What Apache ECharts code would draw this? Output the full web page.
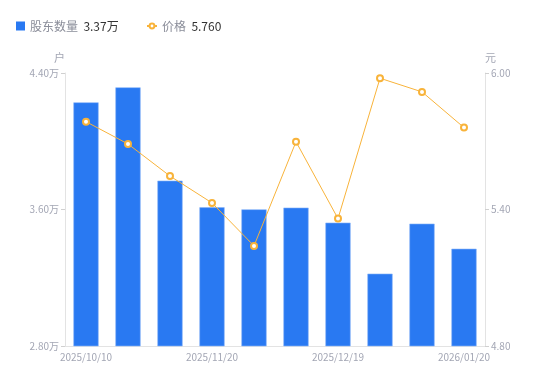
<!DOCTYPE html>
<html><head><meta charset="utf-8">
<script src="https://cdn.jsdelivr.net/npm/echarts@6/dist/echarts.min.js"></script>
<style>html,body{margin:0;padding:0;background:#fff}#c{width:550px;height:381px}</style>
</head><body><div id="c"></div>
<script>
const categories = ['2025/10/10','2025/10/20','2025/10/31','2025/11/20','2025/11/28','2025/12/10','2025/12/19','2025/12/31','2026/01/09','2026/01/20'];
const holders = [4.228, 4.316, 3.769, 3.613, 3.601, 3.611, 3.523, 3.224, 3.517, 3.370];
const prices = [5.786, 5.688, 5.547, 5.429, 5.240, 5.698, 5.360, 5.977, 5.917, 5.760];
const leftTicks = [2.80, 3.60, 4.40];
const rightTicks = [4.80, 5.40, 6.00];
const legendValues = {'股东数量': '3.37万', '价格': '5.760'};

const chart = echarts.init(document.getElementById('c'));
const labelColor = '#a3a6b4';
const legendText = {color: '#8a8d99', fontSize: 12, rich: {v: {color: '#333', fontSize: 12}}};
const fmt = n => n + '  {v|' + legendValues[n] + '}';
chart.setOption({
  animation: false,
  textStyle: {fontFamily: 'Noto Sans CJK SC, sans-serif'},
  legend: [{
    left: 11, top: 15, itemWidth: 9, itemHeight: 9,
    data: [{name: '股东数量', icon: 'rect', itemStyle: {borderWidth: 0}}],
    formatter: fmt, textStyle: legendText
  }, {
    left: 141, top: 15, itemWidth: 10, itemHeight: 6,
    data: [{name: '价格'}],
    formatter: fmt, textStyle: legendText
  }],
  grid: {left: 65, right: 65, top: 73, bottom: 35},
  xAxis: {
    type: 'category', data: categories,
    axisLine: {lineStyle: {color: '#e3e3e3'}},
    axisTick: {show: false},
    axisLabel: {color: labelColor, fontSize: 10, interval: 2, margin: 6,
      alignMinLabel: 'center', alignMaxLabel: 'center'}
  },
  yAxis: [{
    type: 'value', name: '户', min: leftTicks[0], max: leftTicks[2], interval: leftTicks[1] - leftTicks[0],
    nameTextStyle: {color: labelColor, fontSize: 11, align: 'right'},
    nameGap: 10,
    axisLine: {show: true, lineStyle: {color: '#e3e3e3'}},
    axisTick: {show: true, length: 4, lineStyle: {color: '#d0d0d0'}},
    splitLine: {show: false},
    axisLabel: {color: labelColor, fontSize: 10, margin: 6, formatter: v => v.toFixed(2) + '万'}
  }, {
    type: 'value', name: '元', min: rightTicks[0], max: rightTicks[2], interval: 0.6,
    nameTextStyle: {color: labelColor, fontSize: 11, align: 'left'},
    nameGap: 10,
    axisLine: {show: true, lineStyle: {color: '#e3e3e3'}},
    axisTick: {show: true, length: 4, lineStyle: {color: '#d0d0d0'}},
    splitLine: {show: false},
    axisLabel: {color: labelColor, fontSize: 10, margin: 6, formatter: v => v.toFixed(2)}
  }],
  series: [{
    name: '股东数量', type: 'bar', data: holders, barWidth: '60%',
    itemStyle: {color: '#2979f2', borderColor: '#8ab6f8', borderWidth: 0.6}
  }, {
    name: '价格', type: 'line', yAxisIndex: 1, data: prices,
    symbol: 'emptyCircle', symbolSize: 6,
    lineStyle: {color: '#f8b33a', width: 1},
    itemStyle: {color: '#f8b33a', borderWidth: 2}
  }]
});
</script></body></html>
